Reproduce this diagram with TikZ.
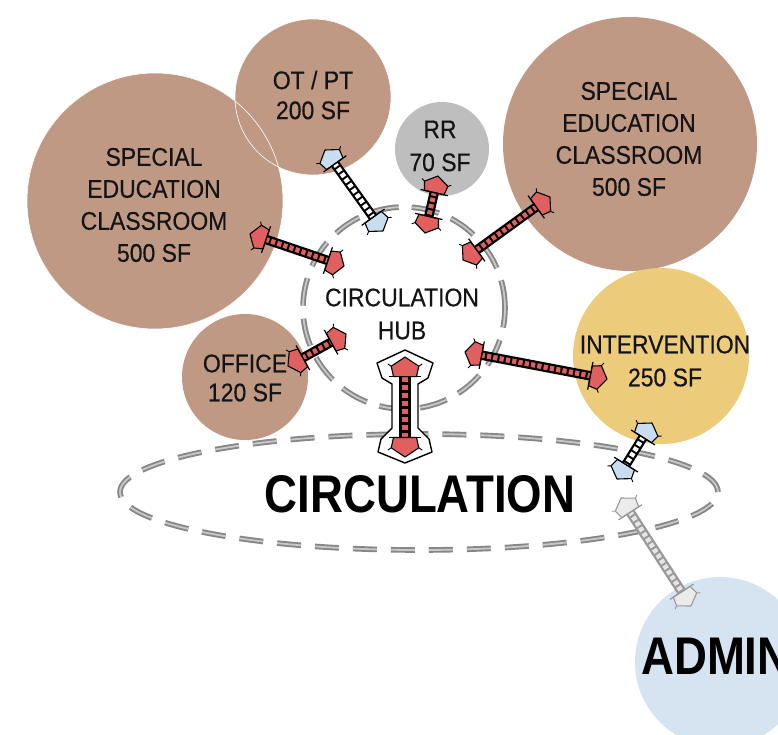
\documentclass[tikz,border=0pt]{standalone}
\usepackage{fontspec}
\setmainfont{Liberation Sans}
\newfontfamily\roomfont[FakeStretch=0.9,FakeBold=0.4]{Liberation Sans}
\newfontfamily\bigfont[FakeStretch=0.86]{Liberation Sans Bold}
\usetikzlibrary{shapes.geometric}
\definecolor{roombrown}{RGB}{192,153,133}
\definecolor{rrgray}{RGB}{190,190,190}
\definecolor{intyellow}{RGB}{236,203,122}
\definecolor{adminblue}{RGB}{214,228,241}
\definecolor{headred}{RGB}{224,96,96}
\definecolor{headblue}{RGB}{200,221,240}
\definecolor{dashgray}{RGB}{135,135,135}
\definecolor{dashlight}{RGB}{200,200,200}
\definecolor{txt}{RGB}{20,20,20}
\tikzset{
  room/.style={circle, inner sep=0pt, draw=none},
  roomtext/.style={font=\roomfont\fontsize{25.5}{32}\selectfont, align=center, text=txt, inner sep=0pt},
  hubline/.style={draw=dashgray, line width=1.9pt, double=dashlight, double distance=1.8pt, dash pattern=on 28pt off 13pt},
  circline/.style={draw=dashgray, line width=1.9pt, double=dashlight, double distance=1.8pt, dash pattern=on 24pt off 14pt},
  shaftout/.style={draw=#1, line width=9.5pt, shorten <=15pt, shorten >=15pt},
  shaftin/.style={draw=#1, line width=5pt, dash pattern=on 4.2pt off 2.2pt, shorten <=16pt, shorten >=16pt},
  headfwd/.pic={\draw[line width=1.1pt, fill=#1, line join=round] (0,0) -- (-8,-12) -- (-17,-10) -- (-17,10) -- (-8,12) -- cycle;
                \draw[line width=1.2pt] (-17,-14) -- (-17,14);
                \draw[line width=0.9pt] (-8,-12) -- (-6,-15) (-8,12) -- (-6,15);},
  headback/.pic={\draw[line width=1.1pt, fill=#1, line join=round] (0,0) -- (8,-12) -- (17,-10) -- (17,10) -- (8,12) -- cycle;
                \draw[line width=1.2pt] (17,-14) -- (17,14);
                \draw[line width=0.9pt] (8,-12) -- (6,-15) (8,12) -- (6,15);},
}
\newcommand\ladderarrow[5]{%
  \draw[shaftout=#1] (#4) -- (#5);
  \draw[shaftin=#2] (#4) -- (#5);
  \path (#4) -- (#5)
    pic[pos=0, sloped, allow upside down, color=#1]{headback=#3}
    pic[pos=1, sloped, allow upside down, color=#1]{headfwd=#3};}
\begin{document}
\begin{tikzpicture}[x=1pt,y=-1pt]
\useasboundingbox (0,0) rectangle (778,734);
\fill[white] (0,0) rectangle (778,734);
\clip (0,0) rectangle (778,734);

% rooms
\node[room, fill=roombrown, minimum size=256pt] (se1) at (155,201) {};
\node[room, fill=roombrown, minimum size=156pt] (otpt) at (313,97) {};
\draw[white, line width=0.6pt] (se1.center) circle[radius=128];
\draw[white, line width=0.6pt] (otpt.center) circle[radius=78];
\node[room, fill=rrgray, minimum size=94pt] (rr) at (442,149) {};
\node[room, fill=roombrown, minimum size=254pt] (se2) at (630,144) {};
\node[room, fill=roombrown, minimum size=126pt] (office) at (245,377) {};
\node[room, fill=intyellow, minimum size=176pt] (interv) at (661,356) {};
\node[room, fill=adminblue, minimum size=170pt] (admin) at (720,662) {};

% dashed zones
\node[circle, hubline, minimum size=202pt, inner sep=0pt] (hub) at (404,308) {};
\node[ellipse, circline, minimum width=598pt, minimum height=116pt, inner sep=0pt] (circ) at (419,492) {};

% texts
\node[roomtext] (se1t) at (154,205) {SPECIAL\\EDUCATION\\CLASSROOM\\500 SF};
\node[roomtext] (se2t) at (629,139) {SPECIAL\\EDUCATION\\CLASSROOM\\500 SF};
\node[roomtext, font=\roomfont\fontsize{25.5}{30}\selectfont] (otptt) at (313,95) {OT / PT\\200 SF};
\node[roomtext, font=\roomfont\fontsize{25.5}{33}\selectfont] (rrt) at (440,146) {RR\\70 SF};
\node[roomtext, font=\roomfont\fontsize{25.5}{29}\selectfont] (officet) at (245,378) {OFFICE\\120 SF};
\node[roomtext, font=\roomfont\fontsize{25.5}{33}\selectfont] (intervt) at (665,361) {INTERVENTION\\250 SF};
\node[roomtext, font=\roomfont\fontsize{25.5}{33}\selectfont] (hubt) at (402,314) {CIRCULATION\\HUB};
\node[text=black, inner sep=0pt, font=\bigfont\fontsize{53}{60}\selectfont] (circt) at (420,494) {CIRCULATION};
\node[text=black, inner sep=0pt, anchor=west, font=\bigfont\fontsize{53}{60}\selectfont] (admint) at (641,656) {ADMIN};

% arrow end points
\coordinate (a1) at (250,234); \coordinate (b1) at (344,266);
\coordinate (a2) at (325,150); \coordinate (b2) at (383,231);
\coordinate (a3) at (438,176); \coordinate (b3) at (425,233);
\coordinate (a4) at (550,197); \coordinate (b4) at (463,260);
\coordinate (a5) at (288,366); \coordinate (b5) at (346,334);
\coordinate (a6) at (465,352); \coordinate (b6) at (607,379);
\coordinate (a8) at (652,423); \coordinate (b8) at (617,479);
\coordinate (a9) at (621,498); \coordinate (b9) at (691,606);

\ladderarrow{black}{headred}{headred}{a1}{b1}
\ladderarrow{black}{white}{headblue}{a2}{b2}
\ladderarrow{black}{headred}{headred}{a3}{b3}
\ladderarrow{black}{headred}{headred}{a4}{b4}
\ladderarrow{black}{headred}{headred}{a5}{b5}
\ladderarrow{black}{headred}{headred}{a6}{b6}
\ladderarrow{black}{white}{headblue}{a8}{b8}
\ladderarrow{black!40}{black!10}{black!8}{a9}{b9}

% big hub <-> circulation arrow
\coordinate (a7) at (405,357); \coordinate (b7) at (405,457);
\draw[line width=1.4pt, fill=white, line join=round]
  (405,350) -- (433,363) -- (428,378) -- (418,384) -- (418,428) -- (429,439) -- (432,452) -- (405,463)
  -- (378,452) -- (381,439) -- (392,428) -- (392,384) -- (382,378) -- (377,363) -- cycle;
\draw[black, line width=12pt, shorten <=19pt, shorten >=19pt] (a7) -- (b7);
\draw[headred, line width=6.5pt, dash pattern=on 5pt off 3pt, shorten <=20pt, shorten >=20pt] (a7) -- (b7);
\path (a7) -- (b7)
  pic[pos=0, sloped, allow upside down, scale=1.15]{headback=headred}
  pic[pos=1, sloped, allow upside down, scale=1.15]{headfwd=headred};
\end{tikzpicture}
\end{document}
